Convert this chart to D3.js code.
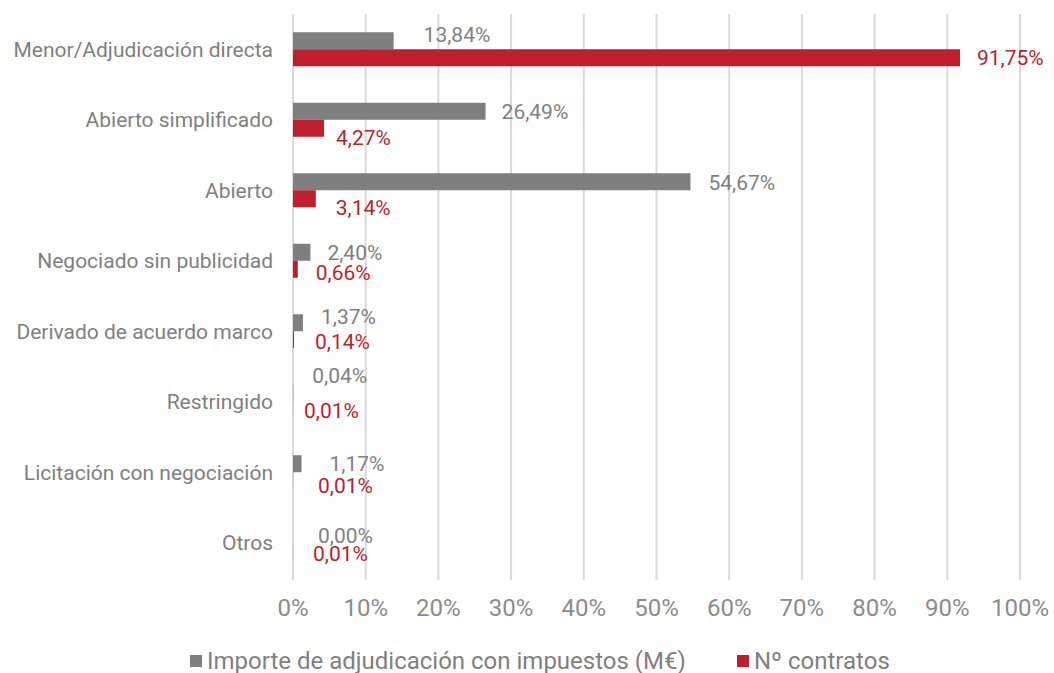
<!DOCTYPE html>
<html>
<head>
<meta charset="utf-8">
<script src="https://cdn.jsdelivr.net/npm/d3@7"></script>
<style>
  body { margin: 0; background: #fff; }
  text { font-family: Roboto, "Noto Sans", sans-serif; }
</style>
</head>
<body>
<div id="chart"></div>
<script>
var categories = ["Menor/Adjudicación directa", "Abierto simplificado", "Abierto",
  "Negociado sin publicidad", "Derivado de acuerdo marco", "Restringido",
  "Licitación con negociación", "Otros"];
var importe = [13.84, 26.49, 54.67, 2.40, 1.37, 0.04, 1.17, 0.00];
var contratos = [91.75, 4.27, 3.14, 0.66, 0.14, 0.01, 0.01, 0.01];
var xTicks = [0, 10, 20, 30, 40, 50, 60, 70, 80, 90, 100];
var seriesNames = ["Importe de adjudicación con impuestos (M€)", "Nº contratos"];

// label nudges (dx, dy) like the hand placed labels in the original
var nudgeImporte = [[30, -6], [16, 0], [18, 1], [17, 0], [18, -6], [19, -18], [28, 0], [25, 1]];
var nudgeContratos = [[17, 0], [12, 9], [20, 9], [18, 3], [21, 2], [11, 0], [25, 5], [20, 2]];

var colors = ["#7f7f7f", "#be1e2d"];
var W = 1054, H = 673;
var margin = { top: 14, right: 34, bottom: 95, left: 293 };
var width = W - margin.left - margin.right,
    height = H - margin.top - margin.bottom;

var svg = d3.select("#chart").append("svg")
    .attr("width", W)
    .attr("height", H);

var g = svg.append("g")
    .attr("transform", "translate(" + margin.left + "," + margin.top + ")");

var x = d3.scaleLinear().domain([0, 100]).range([0, width]);
var y = d3.scaleBand().domain(categories).range([0, height]);
var barH = 17;

// gridlines
g.selectAll(".grid")
    .data(xTicks)
    .enter()
    .append("line")
    .attr("x1", x).attr("x2", x)
    .attr("y1", 0).attr("y2", height + 2)
    .attr("stroke", "#d9d9d9")
    .attr("stroke-width", 2);

// x labels
g.selectAll(".xl")
    .data(xTicks)
    .enter()
    .append("text")
    .attr("x", x)
    .attr("y", height + 30)
    .attr("dy", "0.35em")
    .attr("text-anchor", "middle")
    .attr("fill", "#8c8c8c")
    .style("font-size", "24px")
    .text(function(d) { return d + "%"; });

// category labels
g.selectAll(".yl")
    .data(categories)
    .enter()
    .append("text")
    .attr("x", -20)
    .attr("y", function(d) { return y(d) + y.bandwidth() / 2; })
    .attr("dy", "0.35em")
    .attr("text-anchor", "end")
    .attr("fill", "#7f7f7f")
    .style("font-size", "21px")
    .text(function(d) { return d; });

var fmt = function(v) { return v.toFixed(2).replace(".", ",") + "%"; };

function drawSeries(vals, nudge, color, off) {
  g.append("g").selectAll("rect")
    .data(vals)
    .enter()
    .append("rect")
    .attr("x", 0)
    .attr("y", function(d, i) { return y(categories[i]) + y.bandwidth() / 2 + off; })
    .attr("width", function(d) { return x(d); })
    .attr("height", barH)
    .attr("fill", color);

  g.append("g").selectAll("text")
    .data(vals)
    .enter()
    .append("text")
    .attr("x", function(d, i) { return x(d) + nudge[i][0]; })
    .attr("y", function(d, i) { return y(categories[i]) + y.bandwidth() / 2 + off + barH / 2 + nudge[i][1]; })
    .attr("dy", "0.35em")
    .attr("fill", color)
    .style("font-size", "21px")
    .text(fmt);
}

drawSeries(importe, nudgeImporte, colors[0], -barH);
drawSeries(contratos, nudgeContratos, colors[1], 0);

// legend
var legend = svg.append("g").attr("transform", "translate(0," + 661 + ")");
var legX = [190, 737];
seriesNames.forEach(function(name, i) {
  legend.append("rect")
    .attr("x", legX[i]).attr("y", -6)
    .attr("width", 12).attr("height", 12)
    .attr("fill", colors[i]);
  legend.append("text")
    .attr("x", legX[i] + 17)
    .attr("y", 0)
    .attr("dy", "0.35em")
    .attr("fill", "#7f7f7f")
    .style("font-size", "24px")
    .text(name);
});
</script>
</body>
</html>
